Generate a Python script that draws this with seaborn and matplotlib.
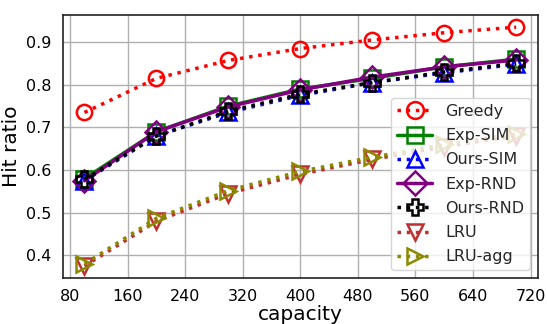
import matplotlib
matplotlib.use("Agg")
import matplotlib.pyplot as plt
import seaborn as sns
import pandas as pd

capacity = [100, 200, 300, 400, 500, 600, 700]
greedy   = [0.735, 0.815, 0.857, 0.885, 0.905, 0.922, 0.935]
exp_sim  = [0.580, 0.690, 0.750, 0.790, 0.815, 0.842, 0.860]
ours_sim = [0.575, 0.680, 0.735, 0.775, 0.805, 0.828, 0.848]
exp_rnd  = [0.575, 0.690, 0.748, 0.788, 0.818, 0.842, 0.858]
ours_rnd = [0.578, 0.680, 0.738, 0.778, 0.805, 0.830, 0.850]
lru      = [0.375, 0.480, 0.545, 0.590, 0.625, 0.655, 0.680]
lru_agg  = [0.380, 0.487, 0.552, 0.597, 0.630, 0.660, 0.685]

series = [
    ("Greedy", greedy, "red", "o", ":"),
    ("Exp-SIM", exp_sim, "green", "s", "-"),
    ("Ours-SIM", ours_sim, "blue", "^", ":"),
    ("Exp-RND", exp_rnd, "purple", "D", "-"),
    ("Ours-RND", ours_rnd, "black", "P", ":"),
    ("LRU", lru, "#c03030", "v", ":"),
    ("LRU-agg", lru_agg, "#8a8a00", ">", ":"),
]

sns.set_theme(style="whitegrid")
plt.rcParams['font.family'] = ['DejaVu Sans']

fig, ax = plt.subplots(figsize=(5.47, 3.24), dpi=100)
for name, vals, color, marker, ls in series:
    df = pd.DataFrame({"capacity": capacity, "ratio": vals})
    sns.lineplot(data=df, x="capacity", y="ratio", ax=ax, label=name,
                 color=color, marker=marker, linestyle=ls, linewidth=2.5,
                 markersize=11, markerfacecolor="none", markeredgecolor=color,
                 markeredgewidth=1.8)

ax.set_xticks([80, 160, 240, 320, 400, 480, 560, 640, 720])
ax.set_yticks([0.4, 0.5, 0.6, 0.7, 0.8, 0.9])
ax.tick_params(labelsize=11.5, pad=2, colors="black")
ax.set_xlabel("capacity", fontsize=14.5, labelpad=1, color="black")
ax.set_ylabel("Hit ratio", fontsize=14.5, labelpad=4, color="black")
ax.grid(True, color="#b0b0b0", linewidth=1)
for s in ax.spines.values():
    s.set_edgecolor("#222222")
    s.set_linewidth(1.2)
ax.legend(loc="lower right", fontsize=11.5, frameon=True, handlelength=2.2,
          borderpad=0.35, labelspacing=0.58, markerscale=1.1,
          borderaxespad=0.5)
fig.subplots_adjust(left=0.115, right=0.983, top=0.953, bottom=0.142)
fig.savefig("out.png", dpi=100)
